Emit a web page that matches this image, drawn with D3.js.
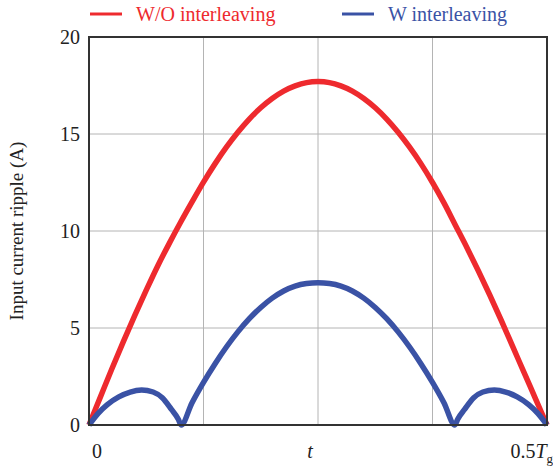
<!DOCTYPE html>
<html>
<head>
<meta charset="utf-8">
<script src="https://cdn.jsdelivr.net/npm/d3@7"></script>
<style>
  body { margin: 0; background: #fff; }
</style>
</head>
<body>
<div id="chart"></div>
<script>
/*
Input current ripple, with and without interleaving
*/

var svgWidth = 553,
    svgHeight = 467;

var margin = {
    left: 89,
    right: 6,
    top: 37,
    bottom: 42
};

var serif = "'Liberation Serif', 'Times New Roman', serif";

var width = svgWidth - margin["left"] - margin["right"],
    height = svgHeight - margin["top"] - margin["bottom"];

// Data (t in units of Tg, values in A)
var tRed = [0, 0.0125, 0.025, 0.0375, 0.05, 0.0625, 0.075, 0.0875, 0.1, 0.1125,
            0.125, 0.1375, 0.15, 0.1625, 0.175, 0.1875, 0.2, 0.2125, 0.225, 0.2375,
            0.25, 0.2625, 0.275, 0.2875, 0.3, 0.3125, 0.325, 0.3375, 0.35, 0.3625,
            0.375, 0.3875, 0.4, 0.4125, 0.425, 0.4375, 0.45, 0.4625, 0.475, 0.4875, 0.5];
var redValues = [0, 1.45, 2.9, 4.3, 5.65, 6.95, 8.2, 9.35, 10.45, 11.5,
                 12.52, 13.46, 14.32, 15.09, 15.77, 16.35, 16.83, 17.21, 17.48, 17.65,
                 17.7, 17.65, 17.48, 17.21, 16.83, 16.35, 15.77, 15.09, 14.32, 13.46,
                 12.5, 11.45, 10.3, 9.15, 7.95, 6.7, 5.4, 4.05, 2.7, 1.35, 0];

var tBlue = [0, 0.01, 0.02, 0.0325, 0.045, 0.0575, 0.07, 0.08, 0.09, 0.0975, 0.1005,
             0.1125, 0.125, 0.1375, 0.15, 0.1625, 0.175, 0.1875, 0.2, 0.2125, 0.225, 0.2375,
             0.25,
             0.2625, 0.275, 0.2875, 0.3, 0.3125, 0.325, 0.3375, 0.35, 0.3625, 0.375, 0.3875,
             0.3995, 0.4025, 0.41, 0.42, 0.43, 0.4425, 0.455, 0.4675, 0.48, 0.49, 0.5];
var blueValues = [0, 0.6, 1.05, 1.45, 1.7, 1.8, 1.7, 1.4, 0.8, 0.3, 0,
                  1.15, 2.2, 3.15, 4.02, 4.8, 5.48, 6.06, 6.54, 6.91, 7.16, 7.29,
                  7.33,
                  7.29, 7.16, 6.91, 6.54, 6.06, 5.48, 4.8, 4.02, 3.15, 2.2, 1.15,
                  0, 0.3, 0.8, 1.4, 1.7, 1.8, 1.7, 1.45, 1.05, 0.6, 0];

var yTicks = [0, 5, 10, 15, 20];
var xGrid = [0.125, 0.25, 0.375];
var legendLabels = ["W/O interleaving", "W interleaving"];
var colors = ["#ee2a2e", "#3a52a5"];

var svg = d3.select("#chart")
    .append("svg")
        .attr("width", svgWidth)
        .attr("height", svgHeight)
        .attr("font-family", serif);

var g = svg.append("g")
    .attr("transform", `translate(${margin["left"]}, ${margin["top"]})`);

// Scales
var x = d3.scaleLinear()
    .domain([0, 0.5])
    .range([0, width]);

var y = d3.scaleLinear()
    .domain([0, 20])
    .range([height, 0]);

// Grid lines
g.selectAll(".hgrid")
    .data(yTicks.slice(1, -1))
    .enter().append("line")
        .attr("x1", 0)
        .attr("x2", width)
        .attr("y1", d => y(d))
        .attr("y2", d => y(d))
        .attr("stroke", "#b4b4b4")
        .attr("stroke-width", 1);

g.selectAll(".vgrid")
    .data(xGrid)
    .enter().append("line")
        .attr("x1", d => x(d))
        .attr("x2", d => x(d))
        .attr("y1", 0)
        .attr("y2", height)
        .attr("stroke", "#b4b4b4")
        .attr("stroke-width", 1);

// Lines
var redLine = d3.line()
    .x(d => x(d[0]))
    .y(d => y(d[1]))
    .curve(d3.curveCatmullRom);

var blueLine = d3.line()
    .x(d => x(d[0]))
    .y(d => y(d[1]))
    .curve(d3.curveMonotoneX);

g.append("path")
    .datum(tRed.map((t, i) => [t, redValues[i]]))
    .attr("fill", "none")
    .attr("stroke", colors[0])
    .attr("stroke-width", 5.5)
    .attr("stroke-linejoin", "round")
    .attr("d", redLine);

g.append("path")
    .datum(tBlue.map((t, i) => [t, blueValues[i]]))
    .attr("fill", "none")
    .attr("stroke", colors[1])
    .attr("stroke-width", 5.5)
    .attr("stroke-linejoin", "round")
    .attr("d", blueLine);

// Frame
g.append("rect")
    .attr("width", width)
    .attr("height", height)
    .attr("fill", "none")
    .attr("stroke", "#333")
    .attr("stroke-width", 2);

// Y axis
var yAxisGroup = g.append("g")
    .call(d3.axisLeft(y).tickValues(yTicks).tickSize(0).tickPadding(9));
yAxisGroup.select(".domain").remove();
yAxisGroup.attr("font-family", serif);
yAxisGroup.selectAll("text")
    .attr("font-size", "20px")
    .attr("fill", "#222");

// X labels
g.append("text")
    .attr("x", x(0) + 8)
    .attr("y", height + 33)
    .attr("text-anchor", "middle")
    .attr("font-size", "20px")
    .attr("fill", "#222")
    .text("0");

g.append("text")
    .attr("x", x(0.25) - 8)
    .attr("y", height + 33)
    .attr("text-anchor", "middle")
    .attr("font-size", "20px")
    .attr("font-style", "italic")
    .attr("fill", "#222")
    .text("t");

var endLabel = g.append("text")
    .attr("x", x(0.5) + 6)
    .attr("y", height + 33)
    .attr("text-anchor", "end")
    .attr("font-size", "20px")
    .attr("fill", "#222");
endLabel.append("tspan").text("0.5");
endLabel.append("tspan").attr("font-style", "italic").text("T");
endLabel.append("tspan").attr("font-size", "13px").attr("dy", 5).text("g");

// Y title
svg.append("text")
    .attr("transform", `translate(23, ${margin["top"] + height / 2}) rotate(-90)`)
    .attr("text-anchor", "middle")
    .attr("font-size", "19px")
    .attr("fill", "#222")
    .text("Input current ripple (A)");

// Legend
var legendX = [90, 342];
legendLabels.forEach((label, i) => {
    var lg = svg.append("g")
        .attr("transform", `translate(${legendX[i]}, 14)`);
    lg.append("line")
        .attr("x1", 0)
        .attr("x2", 32)
        .attr("stroke", colors[i])
        .attr("stroke-width", 3);
    lg.append("text")
        .attr("x", 46)
        .attr("y", 7)
        .attr("font-size", "20px")
        .attr("fill", colors[i])
        .text(label);
});
</script>
</body>
</html>
